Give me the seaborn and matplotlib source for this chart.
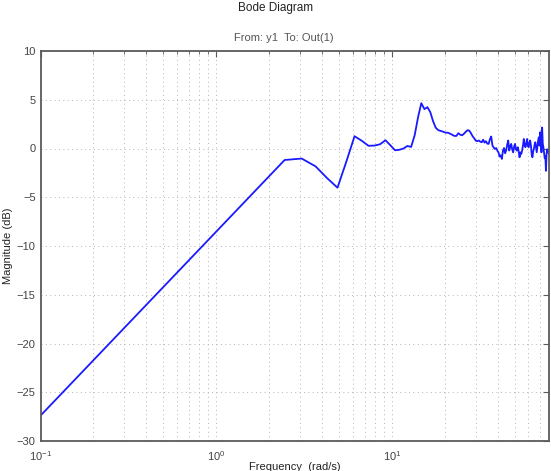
import matplotlib
matplotlib.use("Agg")
import matplotlib.pyplot as plt
import seaborn as sns
import pandas as pd
from matplotlib.ticker import LogLocator, NullFormatter, FixedLocator

# ---- data ----
freq = [0.1,
        0.614, 1.227, 1.841, 2.454, 3.068, 3.682, 4.295, 4.909, 5.522, 6.136,
        6.750, 7.363, 7.977, 8.590, 9.204, 9.818, 10.431, 11.045, 11.658, 12.272,
        12.886, 13.499, 14.113, 14.726, 15.340, 15.954, 16.567, 17.181, 17.794, 18.408,
        19.022, 19.635, 20.249, 20.862, 21.476, 22.090, 22.703, 23.317, 23.930, 24.544,
        25.158, 25.771, 26.385, 26.998, 27.612, 28.226, 28.839, 29.453, 30.066, 30.680,
        31.294, 31.907, 32.521, 33.134, 33.748, 34.362, 34.975, 35.589, 36.202, 36.816,
        37.430, 38.043, 38.657, 39.270, 39.884, 40.498, 41.111, 41.725, 42.338, 42.952,
        43.566, 44.179, 44.793, 45.406, 46.020, 46.634, 47.247, 47.861, 48.474, 49.088,
        49.702, 50.315, 50.929, 51.542, 52.156, 52.770, 53.383, 53.997, 54.610, 55.224,
        55.838, 56.451, 57.065, 57.678, 58.292, 58.906, 59.519, 60.133, 60.746, 61.360,
        61.974, 62.587, 63.201, 63.814, 64.428, 65.042, 65.655, 66.269, 66.882, 67.496,
        68.110, 68.723, 69.337, 69.950, 70.564, 71.178, 71.791, 72.405, 73.018, 73.632,
        74.246, 74.859, 75.473, 76.086, 76.700, 77.314, 77.927, 78.541]

magnitude_db = [-27.4,
        -12.54, -6.86, -3.54, -1.18, -1.03, -1.83, -3.06, -4.02, -1.30, 1.26,
        0.79, 0.28, 0.30, 0.44, 0.85, 0.33, -0.18, -0.13, 0.00, 0.26,
        0.16, 1.36, 3.21, 4.65, 4.04, 4.24, 3.73, 2.80, 2.13, 1.88,
        1.80, 1.72, 1.62, 1.62, 1.52, 1.41, 1.29, 1.29, 1.57, 1.41,
        1.36, 1.52, 1.72, 1.88, 1.83, 1.57, 1.26, 1.05, 0.80, 0.75,
        0.82, 0.70, 0.64, 0.90, 0.60, 0.75, 0.50, 0.47, 0.95, 1.23,
        0.30, 0.10, -0.05, 0.05, -0.21, -0.40, -0.83, -0.70, -1.07, -0.21,
        0.05, -0.49, -0.20, 0.40, 0.82, -0.21, 0.20, 0.47, -0.10, -0.39,
        0.20, 0.47, -0.10, -0.21, 0.13, -0.30, -0.90, -0.40, -0.56, -0.20,
        0.30, 0.98, 0.40, 0.13, 0.50, 0.98, 0.30, 0.13, 0.60, 0.82,
        0.30, -0.60, -0.90, -0.30, -0.05, 0.40, 0.64, 0.10, -0.39, 0.20,
        0.80, 1.16, 0.30, 1.67, 0.50, -0.39, 2.15, 0.47, 0.10, -0.50,
        -1.00, -0.80, -2.29, -0.50, -0.08, -0.40, -0.30, -0.56]

y_ticks = [-30, -25, -20, -15, -10, -5, 0, 5, 10]
x_ticks = [0.1, 1, 10]
x_tick_labels = [r"$10^{-1}$", r"$10^{0}$", r"$10^{1}$"]

title_text = "Bode Diagram"
subtitle_text = "From: y1  To: Out(1)"
x_label = "Frequency  (rad/s)"
y_label = "Magnitude (dB)"

df = pd.DataFrame({"freq": freq, "mag": magnitude_db})

# ---- styling ----
sns.set_style("white")
plt.rcParams["font.family"] = ["Liberation Sans", "DejaVu Sans"]
plt.rcParams["mathtext.fontset"] = "custom"
plt.rcParams["mathtext.rm"] = "Liberation Sans"
plt.rcParams["mathtext.it"] = "Liberation Sans"

frame_col = "#5a5a5a"
text_col = "#444444"

fig = plt.figure(figsize=(5.51, 4.71), dpi=100)
ax = fig.add_axes([40.5 / 551, 30 / 471, (549 - 40.5) / 551, 390 / 471])

sns.lineplot(data=df, x="freq", y="mag", ax=ax, color="#1a1aff",
             linewidth=1.3, sort=False, estimator=None)

ax.set_xscale("log")
ax.set_xlim(0.1, 78.54)
ax.set_ylim(-30, 10)

ax.xaxis.set_major_locator(FixedLocator(x_ticks))
ax.set_xticklabels(x_tick_labels)
ax.xaxis.set_minor_locator(LogLocator(base=10, subs=[2, 3, 4, 5, 6, 7, 8, 9], numticks=20))
ax.xaxis.set_minor_formatter(NullFormatter())
ax.set_yticks(y_ticks)
ax.set_yticklabels([f"{v}".replace("-", "\u2212") for v in y_ticks])

ax.grid(True, which="major", axis="both", linestyle=(0, (1, 3.5)), color="#b3b3b3", linewidth=0.7)
ax.grid(True, which="minor", axis="x", linestyle=(0, (1, 3.5)), color="#b3b3b3", linewidth=0.7)

for sp in ax.spines.values():
    sp.set_visible(True)
    sp.set_color(frame_col)
    sp.set_linewidth(1.3)

ax.tick_params(which="both", direction="in", top=True, right=True, colors=frame_col,
               labelcolor=text_col, labelsize=8)
ax.tick_params(which="major", length=4, width=0.8)
ax.tick_params(which="minor", length=2.5, width=0.6)
ax.tick_params(axis="x", pad=6)

ax.set_xlabel("")
ax.set_ylabel("")

fig.text(275.5 / 551, 1 - 8 / 471, title_text, ha="center", va="center", fontsize=8.5, color="#222222")
fig.text(284 / 551, 1 - 38 / 471, subtitle_text, ha="center", va="center", fontsize=8, color="#555555")
fig.text(8 / 551, 1 - 246 / 471, y_label, ha="center", va="center", rotation=90, fontsize=8, color="#222222")
fig.text(295 / 551, 1 - 462 / 471, x_label, ha="center", va="top", fontsize=8, color="#222222")

fig.savefig("out.png", dpi=100)
